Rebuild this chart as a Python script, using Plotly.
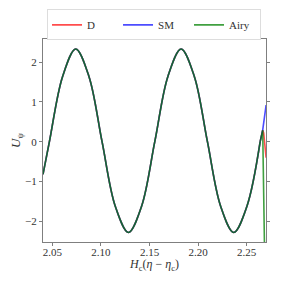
import plotly.graph_objects as go

# shared body of all three solutions
x_body = [2.0403, 2.0469, 2.0605, 2.0740, 2.0876, 2.1011, 2.1147, 2.1283, 2.1418,
          2.1554, 2.1689, 2.1825, 2.1961, 2.2096, 2.2232, 2.2367, 2.2503, 2.2639]
u_body = [-0.82, 0.00, 1.64, 2.33, 1.64, 0.00, -1.62, -2.28, -1.62,
          0.00, 1.64, 2.33, 1.64, 0.00, -1.62, -2.28, -1.62, 0.00]

# tails where the solutions separate
d_tail_x = [2.2639, 2.2665, 2.2675, 2.2688, 2.2700]
d_tail_u = [0.00, 0.29, 0.22, -0.05, -0.40]
sm_tail_x = [2.2639, 2.2665, 2.2700]
sm_tail_u = [0.00, 0.29, 0.92]
airy_tail_x = [2.2639, 2.2665, 2.2684]
airy_tail_u = [0.00, 0.29, -2.70]

names = ["D", "SM", "Airy"]
colors = ["rgba(255,0,0,0.7)", "rgba(0,0,255,0.7)", "rgba(0,128,0,0.75)"]
tails = [(d_tail_x, d_tail_u), (sm_tail_x, sm_tail_u), (airy_tail_x, airy_tail_u)]

fig = go.Figure()
for name, col, (tx, tu) in zip(names, colors, tails):
    fig.add_trace(go.Scatter(x=x_body, y=u_body, mode="lines", name=name,
                             line=dict(color=col, width=1.6, shape="spline", smoothing=1.0),
                             legendgroup=name))
    fig.add_trace(go.Scatter(x=tx, y=tu, mode="lines", name=name, showlegend=False,
                             line=dict(color=col, width=1.6), legendgroup=name))

font = '"Liberation Serif", "Times New Roman", serif'
axis_common = dict(showgrid=False, zeroline=False, showline=True, linecolor="#7f7f7f",
                   linewidth=1, mirror="ticks", ticks="outside", ticklen=3,
                   tickcolor="#7f7f7f", tickfont=dict(family=font, size=11, color="#333"))

# page body has an 8px margin, so the figure is 265 px and offset by 8 px
fig.update_layout(
    width=265, height=265,
    margin=dict(l=35, r=7, t=31, b=31, autoexpand=False),
    paper_bgcolor="white", plot_bgcolor="white",
    font=dict(family=font, color="#333"),
    showlegend=True,
    legend=dict(orientation="h", x=0.551, xanchor="center", xref="container",
                y=0.995, yanchor="top", yref="container",
                bordercolor="#dddddd", borderwidth=1, font=dict(family=font, size=11),
                entrywidth=26, tracegroupgap=0),
    xaxis=dict(range=[2.0403, 2.2699], tickvals=[2.05, 2.10, 2.15, 2.20, 2.25],
               ticktext=["2.05", "2.10", "2.15", "2.20", "2.25"],
               ticklabelstandoff=-3,
               title=dict(text="<i>H</i><sub>c</sub>(<i>η</i> − <i>η</i><sub>c</sub>)",
                          font=dict(family=font, size=12), standoff=0),
               **axis_common),
    yaxis=dict(range=[-2.52, 2.58], tickvals=[-2, -1, 0, 1, 2],
               ticktext=["−2", "−1", "0", "1", "2"],
               title=dict(text="<i>U</i><sub>ψ</sub>", font=dict(family=font, size=13),
                          standoff=4),
               **axis_common),
)

fig.write_html("out.html")
